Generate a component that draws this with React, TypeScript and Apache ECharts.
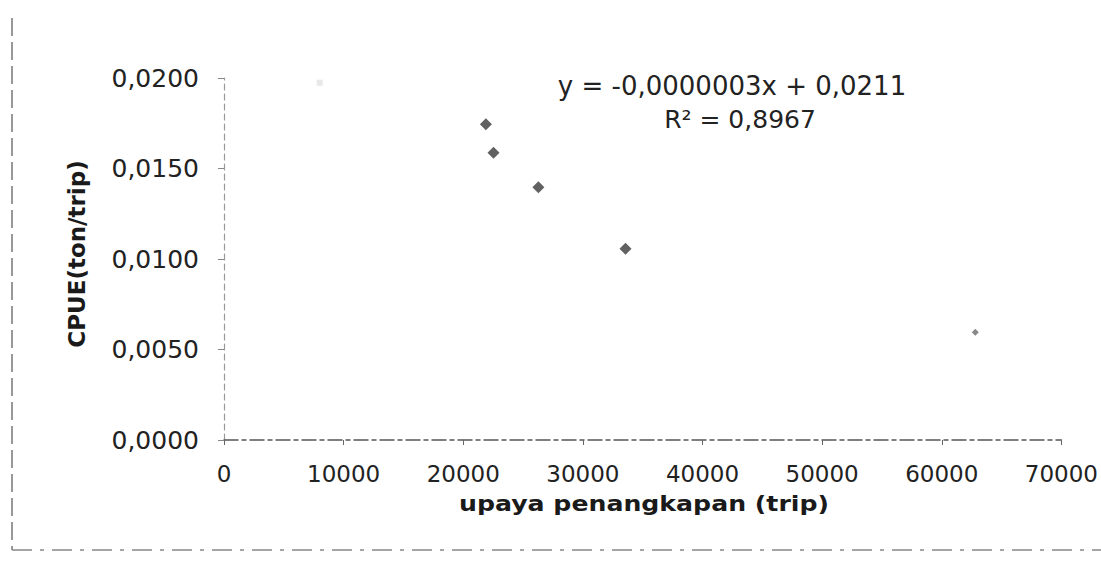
import React, { useEffect, useRef } from "react";
import * as echarts from "echarts";

// upaya penangkapan (trip) vs CPUE (ton/trip)
const effort = [21890, 22530, 26280, 33560];
const cpue = [0.01744, 0.01587, 0.01396, 0.01057];
const fadedEffort = [62800];
const fadedCpue = [0.00595];
const ghostEffort = [8000];
const ghostCpue = [0.01974];

const xTicks = [0, 10000, 20000, 30000, 40000, 50000, 60000, 70000];
const yTicks = [0, 0.005, 0.01, 0.015, 0.02];

const equationText = "y = -0,0000003x + 0,0211";
const r2Text = "R² = 0,8967";
const xName = "upaya penangkapan (trip)";
const yName = "CPUE(ton/trip)";

const FONT = "DejaVu Sans";

export default function App() {
  const ref = useRef<HTMLDivElement>(null);
  useEffect(() => {
    if (!ref.current) return;
    const chart = echarts.init(ref.current, undefined, { renderer: "svg" });
    const pairs = (xs: number[], ys: number[]) => xs.map((x, i) => [x, ys[i]]);
    chart.setOption({
      animation: false,
      backgroundColor: "#ffffff",
      grid: { left: 224, right: 37, top: 78, bottom: 122, containLabel: false },
      xAxis: {
        type: "value",
        min: xTicks[0],
        max: xTicks[xTicks.length - 1],
        interval: xTicks[1] - xTicks[0],
        axisLine: { show: true, lineStyle: { color: "#555", width: 1.5, type: [14, 4, 4, 4] } },
        axisTick: { show: true, length: 5, lineStyle: { color: "#666", width: 1 } },
        splitLine: { show: false },
        axisLabel: {
          fontFamily: FONT,
          fontSize: 23,
          lineHeight: 23,
          color: "#222",
          margin: 22,
          formatter: (v: number) => String(v),
        },
      },
      yAxis: {
        type: "value",
        min: yTicks[0],
        max: yTicks[yTicks.length - 1],
        interval: yTicks[1] - yTicks[0],
        axisLine: { show: true, lineStyle: { color: "#999", width: 1.2, type: [6, 4] } },
        axisTick: { show: true, length: 6, lineStyle: { color: "#888", width: 1 } },
        splitLine: { show: false },
        axisLabel: {
          fontFamily: FONT,
          fontSize: 25,
          color: "#222",
          margin: 25,
          formatter: (v: number) => v.toFixed(4).replace(".", ","),
        },
      },
      series: [
        {
          type: "scatter",
          name: "CPUE",
          symbol: "diamond",
          symbolSize: 12,
          itemStyle: { color: "#3a3a3a" },
          data: pairs(effort, cpue),
        },
        {
          type: "scatter",
          name: "faded",
          symbol: "diamond",
          symbolSize: 7,
          itemStyle: { color: "#6a6a6a" },
          data: pairs(fadedEffort, fadedCpue),
        },
        {
          type: "scatter",
          name: "ghost",
          symbol: "rect",
          symbolSize: 6,
          itemStyle: { color: "#e2e2e2" },
          data: pairs(ghostEffort, ghostCpue),
        },
      ],
      graphic: [
        {
          type: "line",
          shape: { x1: 12, y1: 18, x2: 12, y2: 550 },
          style: { stroke: "#777", lineWidth: 1.5, lineDash: [18, 6] },
          silent: true,
        },
        {
          type: "line",
          shape: { x1: 12, y1: 550, x2: 1101, y2: 550 },
          style: { stroke: "#888", lineWidth: 1.5, lineDash: [20, 8, 4, 8] },
          silent: true,
        },
        {
          type: "text",
          x: 732,
          y: 86,
          style: {
            text: equationText,
            fontFamily: FONT,
            fontSize: 26,
            fill: "#222",
            align: "center",
            verticalAlign: "middle",
          },
        },
        {
          type: "text",
          x: 740,
          y: 119,
          style: {
            text: r2Text,
            fontFamily: FONT,
            fontSize: 25,
            fill: "#222",
            align: "center",
            verticalAlign: "middle",
          },
        },
        {
          type: "text",
          x: 644,
          y: 503,
          scaleX: 1.2,
          style: {
            text: xName,
            fontFamily: FONT,
            fontWeight: "bold",
            fontSize: 21,
            lineHeight: 21,
            fill: "#1a1a1a",
            align: "center",
            verticalAlign: "middle",
          },
        },
        {
          type: "text",
          x: 77,
          y: 254,
          rotation: Math.PI / 2,
          style: {
            text: yName,
            fontFamily: FONT,
            fontWeight: "bold",
            fontSize: 23,
            fill: "#1a1a1a",
            align: "center",
            verticalAlign: "middle",
          },
        },
      ],
    });
    return () => chart.dispose();
  }, []);
  return (
    <div
      ref={ref}
      style={{ position: "fixed", left: 0, top: 0, width: 1101, height: 562 }}
    />
  );
}
